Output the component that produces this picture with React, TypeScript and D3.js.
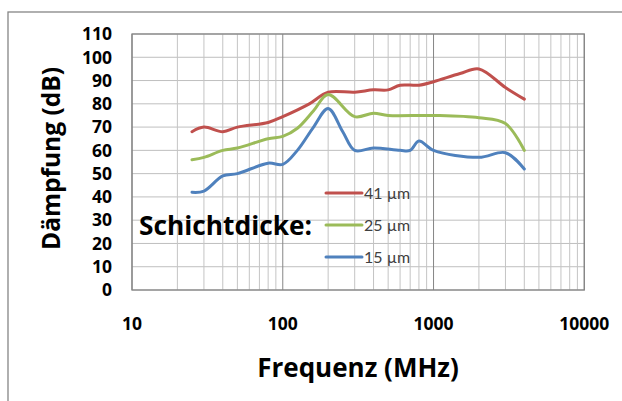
import React from "react";
import * as d3 from "d3";

const W = 622;
const H = 401;

const seriesNames = ["41 µm", "25 µm", "15 µm"];
const seriesColors = ["#C0504D", "#9BBB59", "#4F81BD"];

const freq41 = [25, 30, 40, 50, 80, 100, 150, 200, 300, 400, 500, 600, 800, 1000, 1500, 2000, 3000, 4000];
const val41 = [68, 70, 68, 70, 72, 74.5, 80, 85, 85, 86, 86, 88, 88, 89.5, 93, 95, 87, 82];

const freq25 = [25, 30, 40, 50, 80, 100, 125, 160, 200, 300, 400, 500, 1000, 2000, 3000, 4000];
const val25 = [56, 57, 60, 61, 65, 66, 69.5, 77, 84, 74.5, 76, 75, 75, 74, 71.5, 60];

const freq15 = [25, 30, 40, 50, 80, 100, 125, 160, 200, 250, 300, 400, 600, 700, 800, 1000, 2000, 3000, 4000];
const val15 = [42, 42.5, 49, 50, 54.5, 54, 60, 70, 78, 68, 60, 61, 60, 60, 64, 60, 57, 59, 52];

const yTicks = [0, 10, 20, 30, 40, 50, 60, 70, 80, 90, 100, 110];
const xMajorTicks = [10, 100, 1000, 10000];

const BOLD_FONT = "'Open Sans', 'DejaVu Sans', sans-serif";
const LEGEND_FONT = "Lato, 'DejaVu Sans', sans-serif";

export default function App() {
  const left = 132, right = 584.3, top = 34, bottom = 290;
  const x = d3.scaleLog().domain([10, 10000]).range([left, right]);
  const y = d3.scaleLinear().domain([0, 110]).range([bottom, top]);

  const minorTicks: number[] = [];
  for (let dec = 10; dec < 10000; dec *= 10) {
    for (let k = 2; k <= 9; k++) minorTicks.push(dec * k);
  }

  const line = d3
    .line<[number, number]>()
    .x((d) => x(d[0]))
    .y((d) => y(d[1]))
    .curve(d3.curveCatmullRom.alpha(0.5));

  const data: [number, number][][] = [
    freq41.map((f, i) => [f, val41[i]] as [number, number]),
    freq25.map((f, i) => [f, val25[i]] as [number, number]),
    freq15.map((f, i) => [f, val15[i]] as [number, number]),
  ];

  const legendY = [193, 225, 257];

  return (
    <svg
      width={W}
      height={H}
      style={{ position: "absolute", left: 0, top: 0, background: "#fff" }}
    >
      <rect x={8} y={12} width={800} height={600} fill="#fff" stroke="#868686" strokeWidth={1.3} />
      {yTicks.map((t) => (
        <line key={"h" + t} x1={left} x2={right} y1={y(t)} y2={y(t)} stroke="#bfbfbf" strokeWidth={1} />
      ))}
      {minorTicks.map((t) => (
        <line key={"m" + t} x1={x(t)} x2={x(t)} y1={top} y2={bottom} stroke="#c4c4c4" strokeWidth={1} />
      ))}
      {xMajorTicks.map((t) => (
        <line key={"M" + t} x1={x(t)} x2={x(t)} y1={top} y2={bottom} stroke="#868686" strokeWidth={1} />
      ))}
      <rect x={left} y={top} width={right - left} height={bottom - top} fill="none" stroke="#868686" strokeWidth={1.3} />

      {data.map((d, i) => (
        <path key={"s" + i} d={line(d) || ""} fill="none" stroke={seriesColors[i]} strokeWidth={3} strokeLinejoin="round" strokeLinecap="round" />
      ))}

      {yTicks.map((t) => (
        <text key={"yt" + t} x={112} y={y(t)} dy="0.36em" textAnchor="end" fontFamily={BOLD_FONT} fontWeight="bold" fontSize={17.5} fill="#000">
          {t}
        </text>
      ))}
      {xMajorTicks.map((t) => (
        <text key={"xt" + t} x={x(t)} y={330} textAnchor="middle" fontFamily={BOLD_FONT} fontWeight="bold" fontSize={17.5} fill="#000">
          {t}
        </text>
      ))}

      <text
        transform={`translate(${60},${158.5}) rotate(-90)`}
        textAnchor="middle"
        fontFamily={BOLD_FONT}
        fontWeight="bold"
        fontSize={24.5}
        fill="#000"
      >
        Dämpfung (dB)
      </text>
      <text x={358} y={377} textAnchor="middle" fontFamily={BOLD_FONT} fontWeight="bold" fontSize={26} fill="#000">
        Frequenz (MHz)
      </text>

      <text x={139} y={235} fontFamily={BOLD_FONT} fontWeight="bold" fontSize={26.3} fill="#000">
        Schichtdicke:
      </text>
      {seriesNames.map((n, i) => (
        <g key={"l" + i}>
          <line x1={326} x2={362} y1={legendY[i]} y2={legendY[i]} stroke={seriesColors[i]} strokeWidth={3} strokeLinecap="round" />
          <text x={364} y={legendY[i]} dy="0.35em" fontFamily={LEGEND_FONT} fontSize={16} fill="#404040">
            {n}
          </text>
        </g>
      ))}
    </svg>
  );
}
